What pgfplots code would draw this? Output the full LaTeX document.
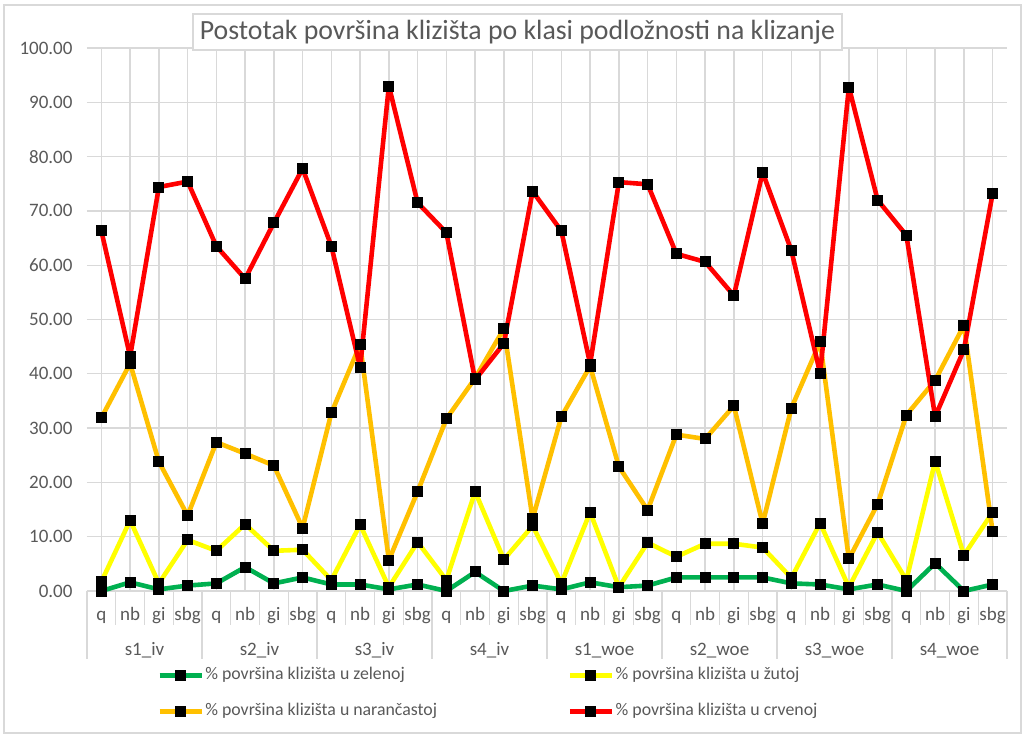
\documentclass[border=0pt]{standalone}
\usepackage{pgfplots}
\usepackage{pgfplotstable}
\usepackage{fontspec}
\setmainfont{Carlito}
\pgfplotsset{compat=1.18}
\definecolor{cgreen}{HTML}{00B050}
\definecolor{cyellow}{HTML}{FFFF00}
\definecolor{corange}{HTML}{FFC000}
\definecolor{cred}{HTML}{FF0000}
\definecolor{cgrid}{HTML}{D9D9D9}
\definecolor{ctext}{HTML}{595959}
\definecolor{cframe}{HTML}{D9D9D9}

\pgfplotstableread{
x green yellow orange red
0  0.0  1.7 31.9 66.3
1  1.6 13.0 41.9 43.2
2  0.3  1.4 23.8 74.4
3  1.0  9.4 13.9 75.4
4  1.4  7.4 27.4 63.5
5  4.4 12.3 25.3 57.5
6  1.4  7.4 23.1 67.8
7  2.5  7.6 11.6 77.8
8  1.2  2.0 32.8 63.5
9  1.2 12.2 45.4 41.2
10 0.3  0.7  5.7 93.0
11 1.2  9.0 18.3 71.5
12 0.0  2.0 31.7 66.0
13 3.5 18.3 39.2 38.9
14 0.0  5.8 48.3 45.6
15 1.0 12.0 13.3 73.6
16 0.3  1.4 32.1 66.3
17 1.6 14.5 41.4 41.8
18 0.7  0.7 22.9 75.3
19 1.0  8.9 14.9 74.9
20 2.5  6.3 28.8 62.1
21 2.5  8.7 28.0 60.6
22 2.5  8.7 34.1 54.4
23 2.5  8.0 12.4 77.1
24 1.4  2.4 33.7 62.7
25 1.2 12.5 45.9 40.1
26 0.3  0.7  5.9 92.8
27 1.2 10.8 16.0 72.0
28 0.0  2.0 32.4 65.5
29 5.1 23.9 38.8 32.1
30 0.0  6.6 48.9 44.4
31 1.2 14.5 10.9 73.2
}\data

\begin{document}
\begin{tikzpicture}[x=1pt,y=1pt]
\path[use as bounding box] (0,0) rectangle (1028,737);
\draw[cframe, line width=1.2pt] (4,4) rectangle (1021,732);
\begin{axis}[
  at={(87pt,146pt)}, anchor=south west,
  scale only axis, width=920pt, height=543pt,
  xmin=-0.5, xmax=31.5, ymin=0, ymax=100,
  ytick={0,10,...,100},
  xtick=data,
  xticklabels={q,nb,gi,sbg,q,nb,gi,sbg,q,nb,gi,sbg,q,nb,gi,sbg,q,nb,gi,sbg,q,nb,gi,sbg,q,nb,gi,sbg,q,nb,gi,sbg},
  axis line style={draw=none},
  major tick length=0pt,
  xmajorgrids, ymajorgrids,
  grid style={cgrid, line width=1.3pt},
  clip=false,
  /pgf/number format/.cd, fixed, fixed zerofill, precision=2, assume math mode=true,
  /pgfplots/.cd,
  yticklabel style={font=\fontsize{19}{21}\selectfont, text=ctext, xshift=-11pt},
  xticklabel style={font=\fontsize{19}{21}\selectfont, text=ctext, anchor=base, yshift=-29pt},
  every axis plot/.append style={line width=4.6pt, line join=round, mark=square*, mark size=5pt, mark options={fill=black, draw=black, line width=0pt}},
  legend columns=2,
  legend cell align=left,
  legend style={at={(axis description cs:0.0761,-0.138)}, anchor=north west, draw=none, fill=none,
    font=\fontsize{17.8}{20}\selectfont, text=ctext,
    row sep=17pt, inner sep=0pt,
    /tikz/every even column/.append style={column sep=129pt},
    nodes={inner sep=1.5pt, text height=12pt, text depth=4pt}},
  legend image code/.code={\draw[mark repeat=2, mark phase=2, #1] plot coordinates {(0pt,0pt) (21pt,0pt) (42pt,0pt)};},
]
\addplot[cgreen] table[x=x, y=green] {\data};
\addlegendentry{\% površina klizišta u zelenoj}
\addplot[cyellow] table[x=x, y=yellow] {\data};
\addlegendentry{\% površina klizišta u žutoj}
\addplot[corange] table[x=x, y=orange] {\data};
\addlegendentry{\% površina klizišta u narančastoj}
\addplot[cred] table[x=x, y=red] {\data};
\addlegendentry{\% površina klizišta u crvenoj}

\pgfplotsinvokeforeach{0,...,32}{
  \draw[cgrid, line width=1.3pt] (axis cs:#1-0.5,0) -- ++(0pt,-34pt);
}
\pgfplotsinvokeforeach{0,4,...,32}{
  \draw[cgrid, line width=1.3pt] (axis cs:#1-0.5,0) -- ++(0pt,-68pt);
}
\node[anchor=base, text=ctext, font=\fontsize{19}{21}\selectfont] at ([yshift=-64pt]axis cs:1.5,0) {s1\_iv};
\node[anchor=base, text=ctext, font=\fontsize{19}{21}\selectfont] at ([yshift=-64pt]axis cs:5.5,0) {s2\_iv};
\node[anchor=base, text=ctext, font=\fontsize{19}{21}\selectfont] at ([yshift=-64pt]axis cs:9.5,0) {s3\_iv};
\node[anchor=base, text=ctext, font=\fontsize{19}{21}\selectfont] at ([yshift=-64pt]axis cs:13.5,0) {s4\_iv};
\node[anchor=base, text=ctext, font=\fontsize{19}{21}\selectfont] at ([yshift=-64pt]axis cs:17.5,0) {s1\_woe};
\node[anchor=base, text=ctext, font=\fontsize{19}{21}\selectfont] at ([yshift=-64pt]axis cs:21.5,0) {s2\_woe};
\node[anchor=base, text=ctext, font=\fontsize{19}{21}\selectfont] at ([yshift=-64pt]axis cs:25.5,0) {s3\_woe};
\node[anchor=base, text=ctext, font=\fontsize{19}{21}\selectfont] at ([yshift=-64pt]axis cs:29.5,0) {s4\_woe};
\end{axis}
\node[draw=cgrid, line width=1.3pt, fill=white, text=ctext, font=\fontsize{27.8}{30}\selectfont,
  minimum width=649pt, minimum height=36pt, inner sep=0pt] at (517.5,705) {Postotak površina klizišta po klasi podložnosti na klizanje};
\end{tikzpicture}
\end{document}
